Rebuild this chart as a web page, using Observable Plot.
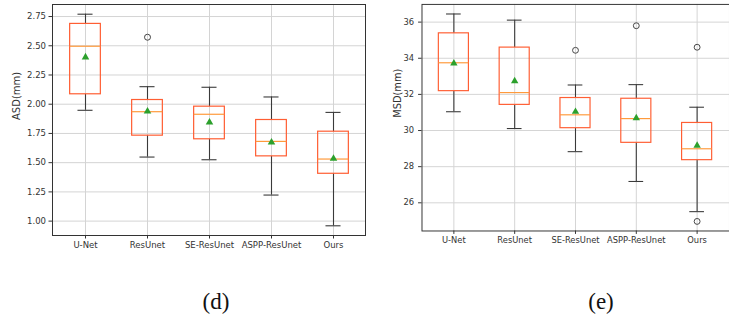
<!DOCTYPE html>
<html>
<head>
<meta charset="utf-8">
<script src="https://cdn.jsdelivr.net/npm/d3@7"></script>
<script src="https://cdn.jsdelivr.net/npm/@observablehq/plot@0.6"></script>
<style>
  html, body { margin: 0; padding: 0; background: #fff; overflow: hidden; }
  #wrap { position: relative; width: 729px; height: 329px; overflow: hidden; }
  .panel { position: absolute; top: 0; }
  .cap { position: absolute; font-family: "Liberation Serif", "Times New Roman", serif; font-size: 23px; color: #111; transform: translateX(-50%); }
</style>
</head>
<body>
<div id="wrap">
  <div class="panel" id="left" style="left:0px"></div>
  <div class="panel" id="right" style="left:370px"></div>
  <div class="cap" style="left:216px; top:289px">(d)</div>
  <div class="cap" style="left:601px; top:289px">(e)</div>
</div>
<script>
const categories = ["U-Net", "ResUnet", "SE-ResUnet", "ASPP-ResUnet", "Ours"];

// ASD (mm)
const asdLow    = [1.948, 1.548, 1.525, 1.223, 0.960];
const asdQ1     = [2.085, 1.731, 1.700, 1.554, 1.405];
const asdMedian = [2.496, 1.936, 1.914, 1.682, 1.531];
const asdQ3     = [2.687, 2.036, 1.979, 1.865, 1.765];
const asdHigh   = [2.770, 2.150, 2.145, 2.062, 1.930];
const asdMean   = [2.402, 1.940, 1.845, 1.674, 1.534];
const asdOutlierCats = ["ResUnet"];
const asdOutlierVals = [2.573];
const asdTicks = [1.00, 1.25, 1.50, 1.75, 2.00, 2.25, 2.50, 2.75];

// MSD (mm)
const msdLow    = [31.04, 30.11, 28.83, 27.18, 25.51];
const msdQ1     = [32.18, 31.42, 30.13, 29.32, 28.36];
const msdMedian = [33.75, 32.10, 30.87, 30.66, 28.99];
const msdQ3     = [35.38, 34.59, 31.80, 31.76, 30.42];
const msdHigh   = [36.45, 36.11, 32.52, 32.54, 31.29];
const msdMean   = [33.72, 32.74, 31.04, 30.69, 29.17];
const msdOutlierCats = ["SE-ResUnet", "ASPP-ResUnet", "Ours", "Ours"];
const msdOutlierVals = [34.44, 35.80, 34.61, 24.97];
const msdTicks = [26, 28, 30, 32, 34, 36];

function boxChart({low, q1, med, q3, high, mean, outCats, outVals, ticks, domain, fmt, label,
                   width, marginLeft, marginRight, labelDx, tickPadding}) {
  const height = 260, marginTop = 4, marginBottom = 25;
  const bw = (width - marginLeft - marginRight) / categories.length;
  const boxInset = bw * 0.25;
  const capInset = bw * 0.375;
  const boxColor = "#ff5e33";
  const medColor = "#ff9a3c";
  const whisk = "#3a3a3a";
  return Plot.plot({
    width, height, marginLeft, marginRight, marginTop, marginBottom,
    style: {fontFamily: "DejaVu Sans, sans-serif", fontSize: "8.5px", color: "#333", background: "#fff"},
    x: {type: "band", domain: categories, padding: 0, axis: null},
    y: {domain, axis: null},
    marks: [
      Plot.gridX(categories, {stroke: "#d4d4d4", strokeOpacity: 1, strokeWidth: 1}),
      Plot.gridY(ticks, {stroke: "#d4d4d4", strokeOpacity: 1, strokeWidth: 1}),
      Plot.ruleX(categories, {x: d => d, y1: low, y2: q1, stroke: whisk, strokeWidth: 1.1}),
      Plot.ruleX(categories, {x: d => d, y1: q3, y2: high, stroke: whisk, strokeWidth: 1.1}),
      Plot.tickY(categories, {x: d => d, y: low, stroke: whisk, strokeWidth: 1.1, insetLeft: capInset, insetRight: capInset}),
      Plot.tickY(categories, {x: d => d, y: high, stroke: whisk, strokeWidth: 1.1, insetLeft: capInset, insetRight: capInset}),
      Plot.barY(categories, {x: d => d, y1: q1, y2: q3, fill: "none", stroke: boxColor, strokeWidth: 1.2, insetLeft: boxInset, insetRight: boxInset}),
      Plot.tickY(categories, {x: d => d, y: med, stroke: medColor, strokeWidth: 1.2, insetLeft: boxInset, insetRight: boxInset}),
      Plot.dot(categories, {x: d => d, y: mean, symbol: "triangle", fill: "#2ca02c", stroke: "none", r: 2.8}),
      Plot.dot(outCats, {x: outCats, y: outVals, r: 3, fill: "none", stroke: "#444", strokeWidth: 1}),
      Plot.frame({stroke: "#333", strokeWidth: 1}),
      Plot.axisY(ticks, {tickSize: 3.5, tickPadding, tickFormat: fmt, label: null, fontSize: 8.5}),
      Plot.axisX({tickSize: 3.5, tickPadding: 3, label: null, fontSize: 8.5}),
      Plot.text([label], {text: d => d, frameAnchor: "left", rotate: -90, dx: labelDx, fontSize: 10, fill: "#333"})
    ]
  });
}

document.getElementById("left").append(boxChart({
  low: asdLow, q1: asdQ1, med: asdMedian, q3: asdQ3, high: asdHigh, mean: asdMean,
  outCats: asdOutlierCats, outVals: asdOutlierVals, ticks: asdTicks,
  domain: [0.877, 2.853], fmt: d3.format(".2f"), label: "ASD(mm)",
  width: 370, marginLeft: 52, marginRight: 5, labelDx: -36, tickPadding: 3
}));

document.getElementById("right").append(boxChart({
  low: msdLow, q1: msdQ1, med: msdMedian, q3: msdQ3, high: msdHigh, mean: msdMean,
  outCats: msdOutlierCats, outVals: msdOutlierVals, ticks: msdTicks,
  domain: [24.44, 36.98], fmt: d3.format("d"), label: "MSD(mm)",
  width: 366, marginLeft: 52.5, marginRight: 0, labelDx: -25, tickPadding: 4.5
}));
</script>
</body>
</html>
